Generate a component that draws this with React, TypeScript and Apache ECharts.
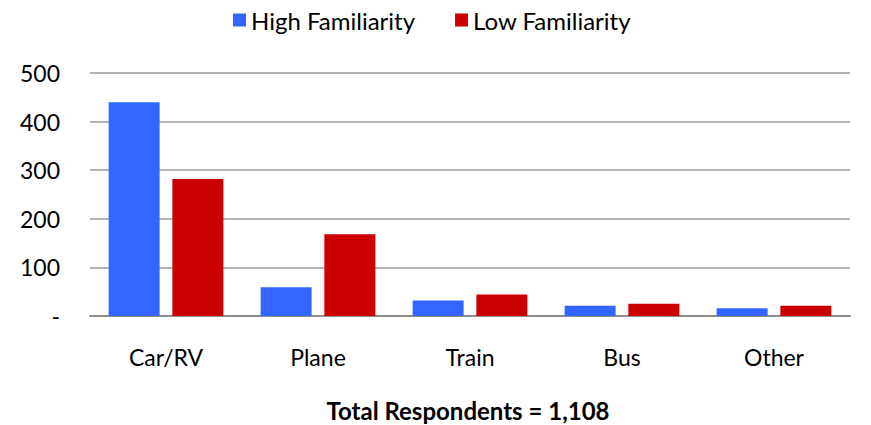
import React, { useEffect, useRef } from "react";
import * as echarts from "echarts";

const categories = ["Car/RV", "Plane", "Train", "Bus", "Other"];
const highFamiliarity = [440, 59, 32, 21, 16];
const lowFamiliarity = [282, 168, 44, 25, 21];
const yTicks = [0, 100, 200, 300, 400, 500];
const footnote = "Total Respondents = 1,108";

const FONT = "Lato, 'Open Sans', sans-serif";

export default function App() {
  const ref = useRef<HTMLDivElement>(null);
  useEffect(() => {
    if (!ref.current) return;
    const chart = echarts.init(ref.current, undefined, { renderer: "svg" });
    chart.setOption({
      animation: false,
      backgroundColor: "#ffffff",
      textStyle: { fontFamily: FONT },
      legend: {
        top: 3,
        left: 228,
        itemWidth: 13,
        itemHeight: 13,
        itemGap: 40,
        icon: "rect",
        textStyle: { fontSize: 24, color: "#000", fontFamily: FONT },
        data: ["High Familiarity", "Low Familiarity"],
      },
      grid: { left: 90, right: 21, top: 73, bottom: 109, containLabel: false },
      xAxis: {
        type: "category",
        data: categories,
        axisTick: { show: false },
        axisLine: { lineStyle: { color: "#8c8c8c", width: 2 } },
        axisLabel: { fontSize: 23, color: "#000", margin: 29, fontFamily: FONT },
      },
      yAxis: {
        type: "value",
        min: 0,
        max: 500,
        interval: 100,
        axisLine: { show: false },
        axisTick: { show: false },
        splitLine: { lineStyle: { color: "#b4b4b4", width: 2 } },
        axisLabel: {
          fontSize: 23,
          color: "#000",
          margin: 30,
          fontFamily: FONT,
          formatter: (v: number) => (yTicks.includes(v) && v === 0 ? "-" : String(v)),
        },
      },
      series: [
        {
          name: "High Familiarity",
          type: "bar",
          data: highFamiliarity,
          barWidth: 51,
          barGap: "25%",
          itemStyle: { color: "#3366ff" },
        },
        {
          name: "Low Familiarity",
          type: "bar",
          data: lowFamiliarity,
          barWidth: 51,
          barGap: "25%",
          itemStyle: { color: "#cc0000" },
        },
      ],
      graphic: [
        {
          type: "text",
          x: 468,
          y: 410,
          style: {
            text: footnote,
            font: `bold 24px ${FONT}`,
            fill: "#000",
            textAlign: "center",
            textVerticalAlign: "middle",
          },
        },
      ],
    });
    return () => chart.dispose();
  }, []);
  return <div ref={ref} style={{ width: 871, height: 425, position: "absolute", left: 0, top: 0 }} />;
}
